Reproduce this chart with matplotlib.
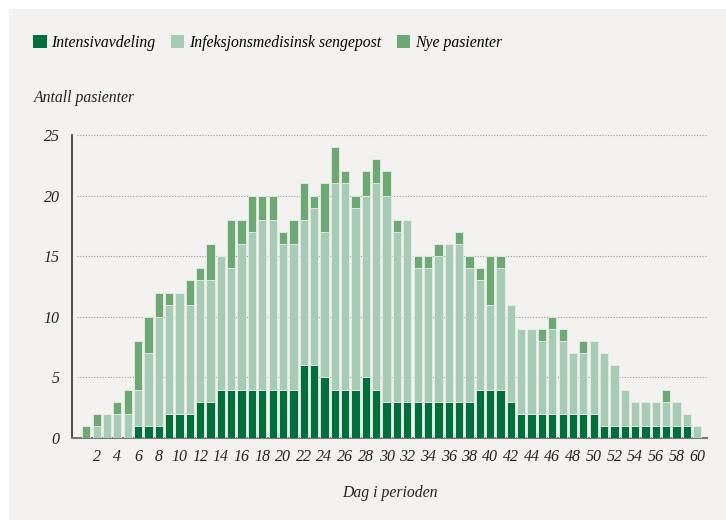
import numpy as np
import matplotlib.pyplot as plt
from matplotlib.patches import Patch

days = np.arange(1, 61)

# Intensivavdeling
icu = [0, 0, 0, 0, 0, 1, 1, 1, 2, 2,
       2, 3, 3, 4, 4, 4, 4, 4, 4, 4,
       4, 6, 6, 5, 4, 4, 4, 5, 4, 3,
       3, 3, 3, 3, 3, 3, 3, 3, 4, 4,
       4, 3, 2, 2, 2, 2, 2, 2, 2, 2,
       1, 1, 1, 1, 1, 1, 1, 1, 1, 0]
# Infeksjonsmedisinsk sengepost
ward = [0, 1, 2, 2, 2, 3, 6, 9, 9, 10,
        9, 10, 10, 11, 10, 12, 13, 14, 14, 12,
        12, 12, 13, 12, 17, 17, 15, 15, 17, 17,
        14, 15, 11, 11, 12, 13, 13, 11, 9, 7,
        10, 8, 7, 7, 6, 7, 6, 5, 5, 6,
        6, 5, 3, 2, 2, 2, 2, 2, 1, 1]
# Nye pasienter
new = [1, 1, 0, 1, 2, 4, 3, 2, 1, 0,
       2, 1, 3, 0, 4, 2, 3, 2, 2, 1,
       2, 3, 1, 4, 3, 1, 1, 2, 2, 2,
       1, 0, 1, 1, 1, 0, 1, 1, 1, 4,
       1, 0, 0, 0, 1, 1, 1, 0, 1, 0,
       0, 0, 0, 0, 0, 0, 1, 0, 0, 0]

labels = ["Intensivavdeling", "Infeksjonsmedisinsk sengepost", "Nye pasienter"]
colors = ["#006f3c", "#a8cbb5", "#6ea873"]
bg = "#f3f2f0"

plt.rcParams['font.family'] = ['Liberation Serif', 'DejaVu Serif']
plt.rcParams['font.style'] = 'italic'

fig = plt.figure(figsize=(7.26, 5.2), dpi=100)
fig.patch.set_facecolor('white')
# grey panel, white margin top and left
fig.patches.append(plt.Rectangle((9/726, 0), 1, 1 - 9/520, transform=fig.transFigure,
                                 facecolor=bg, edgecolor='none', zorder=-10))

ax = fig.add_axes([72/726, 82/520, 635/726, 303/520])
ax.set_facecolor(bg)

icu = np.array(icu)
ward = np.array(ward)
new = np.array(new)
w = 0.8
ec = '#e4ece6'
ax.bar(days, icu, w, color=colors[0], edgecolor=ec, linewidth=0.6, zorder=3)
ax.bar(days, ward, w, bottom=icu, color=colors[1], edgecolor=ec, linewidth=0.6, zorder=3)
ax.bar(days, new, w, bottom=icu + ward, color=colors[2], edgecolor=ec, linewidth=0.6, zorder=3)

ax.set_xlim(-0.38, 60.94)
ax.set_ylim(0, 25)
ax.set_yticks([0, 5, 10, 15, 20, 25])
ax.set_xticks(np.arange(2, 61, 2))
ax.tick_params(axis='both', length=0, labelsize=11.5, colors='#222222')
ax.tick_params(axis='y', pad=9)
ax.tick_params(axis='x', pad=8)
for y in [5, 10, 15, 20, 25]:
    ax.axhline(y, xmin=0.008, color='#9a9a9a', linestyle=(0, (1, 1.5)), linewidth=0.8, zorder=1)

for s in ['top', 'right']:
    ax.spines[s].set_visible(False)
ax.spines['left'].set_color('#333333')
ax.spines['left'].set_linewidth(1.2)
ax.spines['bottom'].set_color('#777777')
ax.spines['bottom'].set_linewidth(1.5)

ax.set_xlabel("Dag i perioden", fontsize=11.3, labelpad=14, color='#222222')
fig.text(34/726, 1 - 98/520, "Antall pasienter", fontsize=11.3, va='center', ha='left', color='#222222')

handles = [Patch(facecolor=c, edgecolor='none') for c in colors]
fig.legend(handles, labels, loc='center left', bbox_to_anchor=(27/726, 1 - 43/520),
           ncol=3, frameon=False, fontsize=11.3, handlelength=0.85, handleheight=0.85,
           handletextpad=0.3, columnspacing=1.0, borderaxespad=0)

fig.savefig("out.png", dpi=100, facecolor=fig.get_facecolor())
